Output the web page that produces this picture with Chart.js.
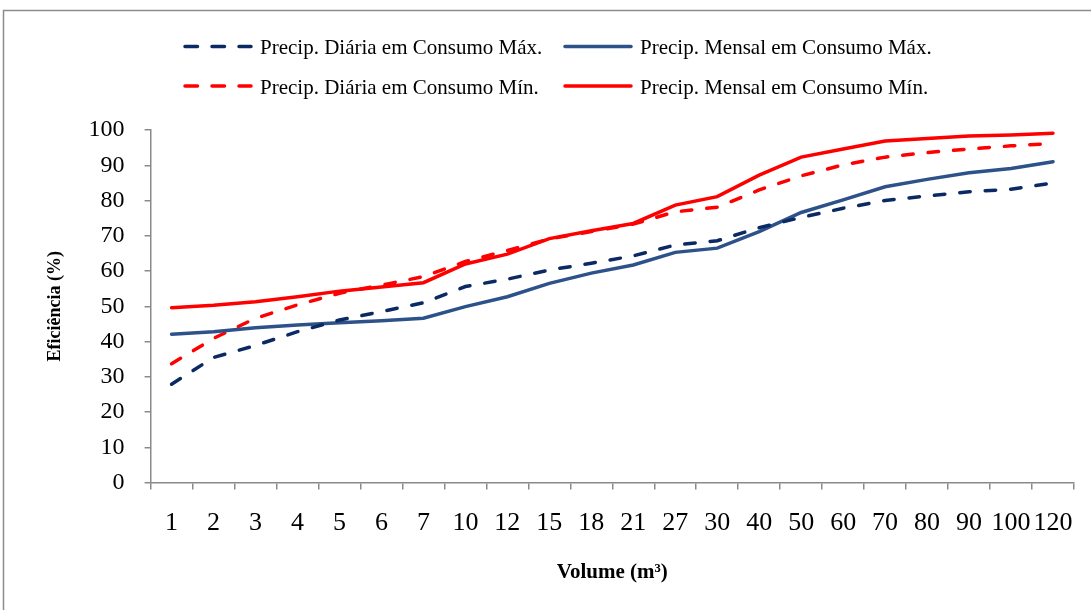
<!DOCTYPE html>
<html>
<head>
<meta charset="utf-8">
<script src="https://cdn.jsdelivr.net/npm/chart.js@4"></script>
<style>
  html, body { margin: 0; padding: 0; background: #fff; }
</style>
</head>
<body>
<canvas id="chart" width="1091" height="610"></canvas>
<script>
// volumes (m³) on the x axis
const volumes = ['1', '2', '3', '4', '5', '6', '7', '10', '12', '15', '18', '21', '27', '30', '40', '50', '60', '70', '80', '90', '100', '120'];

// efficiency (%) per series
const diariaMax = [27.9, 35.5, 38.9, 42.8, 46.1, 48.5, 51.0, 55.6, 57.7, 60.3, 62.2, 64.3, 67.4, 68.6, 72.3, 75.2, 77.8, 80.0, 81.3, 82.5, 83.2, 85.0];
const mensalMax = [42.1, 42.8, 43.9, 44.7, 45.3, 45.9, 46.6, 49.9, 52.7, 56.5, 59.4, 61.7, 65.3, 66.5, 71.2, 76.6, 80.2, 83.9, 86.0, 87.9, 89.1, 91.0];
const diariaMin = [33.7, 40.9, 46.6, 50.4, 53.7, 56.0, 58.4, 62.7, 65.8, 69.1, 71.2, 73.3, 76.8, 78.1, 83.0, 87.0, 90.1, 92.3, 93.6, 94.6, 95.5, 96.2];
const mensalMin = [49.6, 50.3, 51.3, 52.7, 54.3, 55.5, 56.7, 62.0, 64.8, 69.2, 71.4, 73.5, 78.7, 81.1, 87.2, 92.3, 94.6, 96.9, 97.6, 98.3, 98.6, 99.1];

const seriesNames = [
    'Precip. Diária em Consumo Máx.',
    'Precip. Mensal em Consumo Máx.',
    'Precip. Diária em Consumo Mín.',
    'Precip. Mensal em Consumo Mín.'
];

const serif = '"Liberation Serif", "Times New Roman", serif';
const axisGray = '#8a8a8a';
const dash = [10.5, 15];

// grey frame around the whole figure
const frame = {
    id: 'frame',
    beforeDraw(chart) {
        const ctx = chart.ctx;
        ctx.save();
        ctx.strokeStyle = '#8c8c8c';
        ctx.lineWidth = 1.5;
        ctx.strokeRect(3.5, 10.5, 1200, 700);
        ctx.restore();
    }
};

// two-row legend like the original (2 items per row)
const rowLegend = {
    id: 'rowLegend',
    afterDraw(chart) {
        const ctx = chart.ctx;
        const colX = [185, 565];
        const rowY = [46.5, 86];
        chart.data.datasets.forEach((ds, i) => {
            const x = colX[i % 2];
            const y = rowY[Math.floor(i / 2)];
            ctx.save();
            ctx.strokeStyle = ds.borderColor;
            ctx.lineWidth = 3.5;
            ctx.lineCap = 'round';
            ctx.setLineDash(ds.borderDash.length ? [12.5, 14.5] : []);
            ctx.beginPath();
            ctx.moveTo(x, y);
            ctx.lineTo(x + 66, y);
            ctx.stroke();
            ctx.setLineDash([]);
            ctx.fillStyle = '#000';
            ctx.font = '21px ' + serif;
            ctx.textBaseline = 'alphabetic';
            ctx.fillText(ds.label, x + 75, y + 7.5);
            ctx.restore();
        });
    }
};

const ctx = document.getElementById('chart').getContext('2d');
new Chart(ctx, {
    type: 'line',
    data: {
        labels: volumes,
        datasets: [
            { label: seriesNames[0], data: diariaMax, borderColor: '#0b2a63', borderDash: dash },
            { label: seriesNames[1], data: mensalMax, borderColor: '#2d5289', borderDash: [] },
            { label: seriesNames[2], data: diariaMin, borderColor: '#ff0000', borderDash: dash },
            { label: seriesNames[3], data: mensalMin, borderColor: '#ff0000', borderDash: [] }
        ]
    },
    options: {
        responsive: false,
        animation: false,
        layout: { padding: { top: 130, left: 20, right: 17, bottom: 10 } },
        elements: {
            point: { radius: 0, hoverRadius: 0 },
            line: { tension: 0, borderWidth: 3.5, borderCapStyle: 'round', fill: false }
        },
        plugins: {
            legend: { display: false },
            tooltip: { enabled: false }
        },
        scales: {
            x: {
                offset: true,
                grid: { offset: true, drawOnChartArea: false, tickLength: 7, color: axisGray, lineWidth: 1.5 },
                border: { color: axisGray, width: 1.5 },
                ticks: {
                    color: '#000', padding: 18, autoSkip: false, maxRotation: 0, minRotation: 0,
                    font: { family: serif, size: 26 }
                },
                title: {
                    display: true, text: 'Volume (m³)', color: '#000',
                    font: { family: serif, size: 21, weight: 'bold' },
                    padding: { top: 3, bottom: 15 }
                }
            },
            y: {
                min: 0, max: 100,
                grid: { drawOnChartArea: false, tickLength: 6, color: axisGray, lineWidth: 1.5 },
                border: { color: axisGray, width: 1.5 },
                ticks: { stepSize: 10, color: '#000', padding: 20, font: { family: serif, size: 24 } },
                title: {
                    display: true, text: 'Eficiência (%)', color: '#000',
                    font: { family: serif, size: 18, weight: 'bold' },
                    padding: { top: 25, bottom: 2 }
                }
            }
        }
    },
    plugins: [frame, rowLegend]
});
</script>
</body>
</html>
